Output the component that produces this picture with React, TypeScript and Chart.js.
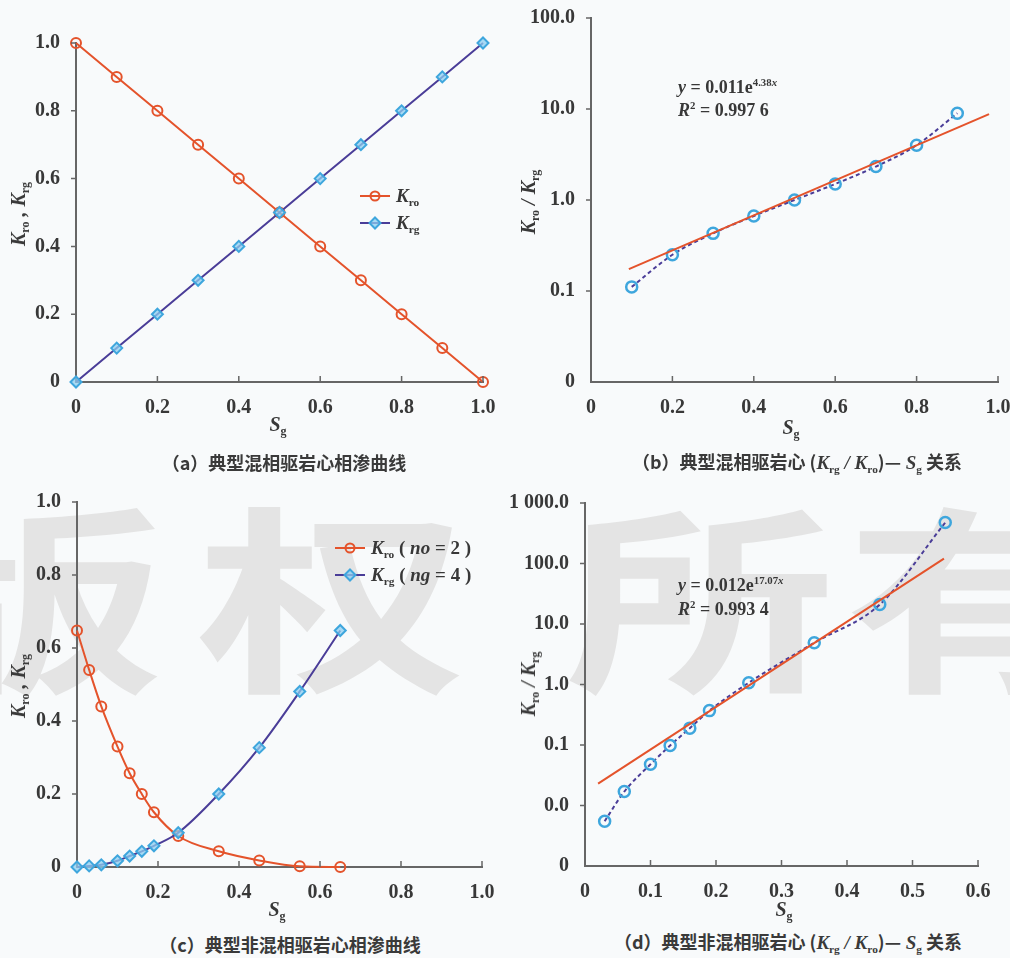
import React, { useEffect, useRef } from "react";
import { Chart, registerables } from "chart.js";
Chart.register(...registerables);

// ---------- data ----------
// (a) typical miscible-flood relative permeability
const SG_A = [0, 0.1, 0.2, 0.3, 0.4, 0.5, 0.6, 0.7, 0.8, 0.9, 1.0];
const KRO_A = [1.0, 0.9, 0.8, 0.7, 0.6, 0.5, 0.4, 0.3, 0.2, 0.1, 0];
const KRG_A = [0, 0.1, 0.2, 0.3, 0.4, 0.5, 0.6, 0.7, 0.8, 0.9, 1.0];
const LIN_TICKS = [0, 0.2, 0.4, 0.6, 0.8, 1.0];
const LIN_LABELS = ["0", "0.2", "0.4", "0.6", "0.8", "1.0"];

// (b) ratio vs Sg (miscible)
const SG_B = [0.1, 0.2, 0.3, 0.4, 0.5, 0.6, 0.7, 0.8, 0.9];
const RATIO_B = [0.111, 0.25, 0.43, 0.667, 1.0, 1.5, 2.33, 4.0, 9.0];
const FIT_SG_B = [0.093, 0.978];
const FIT_B = [0.174, 8.8];
const LOG_TICKS_B = [0.01, 0.1, 1, 10, 100];
const LOG_LABELS_B = ["0", "0.1", "1.0", "10.0", "100.0"];

// (c) typical immiscible-flood relative permeability
const SG_C = [0, 0.03, 0.06, 0.1, 0.13, 0.16, 0.19, 0.25, 0.35, 0.45, 0.55, 0.65];
const KRO_C = [0.648, 0.54, 0.44, 0.33, 0.257, 0.2, 0.15, 0.085, 0.043, 0.018, 0.002, 0];
const KRG_C = [0, 0.003, 0.006, 0.017, 0.03, 0.043, 0.058, 0.094, 0.2, 0.327, 0.481, 0.648];

// (d) ratio vs Sg (immiscible)
const SG_D = [0.03, 0.06, 0.1, 0.13, 0.16, 0.19, 0.25, 0.35, 0.45, 0.55];
const RATIO_D = [0.0055, 0.017, 0.048, 0.098, 0.19, 0.37, 1.07, 4.9, 21, 475];
const FIT_SG_D = [0.02, 0.548];
const FIT_D = [0.023, 120];
const LOG_TICKS_D = [0.001, 0.01, 0.1, 1, 10, 100, 1000];
const LOG_LABELS_D = ["0", "0.0", "0.1", "1.0", "10.0", "100.0", "1 000.0"];
const X_TICKS_D = [0, 0.1, 0.2, 0.3, 0.4, 0.5, 0.6];
const X_LABELS_D = ["0", "0.1", "0.2", "0.3", "0.4", "0.5", "0.6"];

// ---------- styles ----------
const RED = "#e4532b";
const PURPLE = "#4a3d98";
const BLUE = "#3ea6dd";
const BLUE_FILL = "rgba(140,205,240,0.75)";
const AXIS = "#666666";
const TEXT = "#383838";
const TICK_FONT = { family: '"Liberation Serif", serif', weight: "bold" as const, size: 20 };

const pts = (xs: number[], ys: number[]) => xs.map((x, i) => ({ x, y: ys[i] }));

const zeroPad = (s: any) => {
  s.paddingLeft = 0;
  s.paddingRight = 0;
  s.paddingTop = 0;
  s.paddingBottom = 0;
};

const innerTicks = {
  id: "innerTicks",
  afterDraw(chart: any) {
    const { ctx, chartArea, scales } = chart;
    const xs = scales.x;
    const ys = scales.y;
    ctx.save();
    ctx.strokeStyle = AXIS;
    ctx.lineWidth = 1.5;
    ctx.beginPath();
    xs.ticks.forEach((t: any) => {
      const px = xs.getPixelForValue(t.value);
      if (Math.abs(px - chartArea.left) < 2) return;
      ctx.moveTo(px, chartArea.bottom);
      ctx.lineTo(px, chartArea.bottom - 6);
    });
    ys.ticks.forEach((t: any) => {
      const py = ys.getPixelForValue(t.value);
      if (Math.abs(py - chartArea.bottom) < 2) return;
      ctx.moveTo(chartArea.left - 5, py);
      ctx.lineTo(chartArea.left, py);
    });
    ctx.stroke();
    ctx.restore();
  },
};

type Area = { left: number; right: number; top: number; bottom: number };
type AxisSpec = { type: "linear" | "logarithmic"; min: number; max: number; ticks: number[]; labels: string[] };

function makeConfig(datasets: any[], area: Area, w: number, h: number, x: AxisSpec, y: AxisSpec): any {
  return {
    type: "scatter",
    data: { datasets },
    options: {
      animation: false,
      responsive: false,
      events: [],
      layout: { padding: { left: 0, top: area.top, right: w - area.right, bottom: 0 } },
      plugins: { legend: { display: false }, tooltip: { enabled: false } },
      scales: {
        x: {
          type: x.type,
          min: x.min,
          max: x.max,
          grid: { display: false },
          border: { display: true, color: AXIS, width: 2 },
          ticks: {
            font: TICK_FONT,
            color: TEXT,
            padding: 6,
            maxRotation: 0,
            autoSkip: false,
            callback: (_v: any, i: number) => x.labels[i],
          },
          afterBuildTicks: (s: any) => {
            s.ticks = x.ticks.map((v) => ({ value: v }));
          },
          afterFit: (s: any) => {
            s.height = h - area.bottom;
            zeroPad(s);
          },
        },
        y: {
          type: y.type,
          min: y.min,
          max: y.max,
          grid: { display: false },
          border: { display: true, color: AXIS, width: 2 },
          ticks: {
            font: TICK_FONT,
            color: TEXT,
            padding: 8,
            autoSkip: false,
            callback: (_v: any, i: number) => y.labels[i],
          },
          afterBuildTicks: (s: any) => {
            s.ticks = y.ticks.map((v) => ({ value: v }));
          },
          afterFit: (s: any) => {
            s.width = area.left;
            zeroPad(s);
          },
        },
      },
    },
    plugins: [innerTicks],
  };
}

function Panel(props: { left: number; top: number; width: number; height: number; build: () => any }) {
  const ref = useRef<HTMLCanvasElement>(null);
  useEffect(() => {
    const chart = new Chart(ref.current as HTMLCanvasElement, props.build());
    return () => chart.destroy();
  }, []);
  return (
    <canvas
      ref={ref}
      width={props.width}
      height={props.height}
      style={{ position: "absolute", left: props.left, top: props.top, width: props.width, height: props.height }}
    />
  );
}

// ---------- panel configs ----------
const W = 505;
const H = 440;

const linLine = (label: string, xs: number[], ys: number[], line: string, marker: string, fill: string, style: string, order: number, smooth: boolean) => ({
  label,
  data: pts(xs, ys),
  showLine: true,
  borderColor: line,
  borderWidth: 2,
  pointStyle: style,
  pointRadius: style === "rectRot" ? 5.5 : 5,
  pointBorderColor: marker,
  pointBorderWidth: 2,
  pointBackgroundColor: fill,
  cubicInterpolationMode: smooth ? "monotone" : "default",
  tension: 0,
  clip: false,
  order,
});

const buildA = () =>
  makeConfig(
    [
      linLine("Krg", SG_A, KRG_A, PURPLE, BLUE, BLUE_FILL, "rectRot", 0, false),
      linLine("Kro", SG_A, KRO_A, RED, RED, "rgba(255,255,255,0)", "circle", 1, false),
    ],
    { left: 76, right: 483, top: 43, bottom: 382 },
    W,
    H,
    { type: "linear", min: 0, max: 1, ticks: LIN_TICKS, labels: LIN_LABELS },
    { type: "linear", min: 0, max: 1, ticks: LIN_TICKS, labels: LIN_LABELS }
  );

const buildC = () =>
  makeConfig(
    [
      linLine("Krg (ng=4)", SG_C, KRG_C, PURPLE, BLUE, BLUE_FILL, "rectRot", 0, true),
      linLine("Kro (no=2)", SG_C, KRO_C, RED, RED, "rgba(255,255,255,0)", "circle", 1, true),
    ],
    { left: 77, right: 482, top: 22, bottom: 387 },
    W,
    H,
    { type: "linear", min: 0, max: 1, ticks: LIN_TICKS, labels: LIN_LABELS },
    { type: "linear", min: 0, max: 1, ticks: LIN_TICKS, labels: LIN_LABELS }
  );

const ratioSets = (xs: number[], ys: number[], fx: number[], fy: number[]) => [
  {
    label: "fit",
    data: pts(fx, fy),
    showLine: true,
    borderColor: RED,
    borderWidth: 2,
    pointRadius: 0,
    clip: false,
    order: 0,
  },
  {
    label: "ratio",
    data: pts(xs, ys),
    showLine: true,
    borderColor: PURPLE,
    borderWidth: 2,
    borderDash: [4, 3],
    cubicInterpolationMode: "monotone",
    pointStyle: "circle",
    pointRadius: 5.5,
    pointBorderColor: BLUE,
    pointBorderWidth: 2.5,
    pointBackgroundColor: "rgba(255,255,255,0)",
    clip: false,
    order: 1,
  },
];

const buildB = () =>
  makeConfig(
    ratioSets(SG_B, RATIO_B, FIT_SG_B, FIT_B),
    { left: 86, right: 493, top: 18, bottom: 382 },
    W,
    H,
    { type: "linear", min: 0, max: 1, ticks: LIN_TICKS, labels: LIN_LABELS },
    { type: "logarithmic", min: 0.01, max: 100, ticks: LOG_TICKS_B, labels: LOG_LABELS_B }
  );

const buildD = () =>
  makeConfig(
    ratioSets(SG_D, RATIO_D, FIT_SG_D, FIT_D),
    { left: 80, right: 473, top: 23, bottom: 386 },
    W,
    H,
    { type: "linear", min: 0, max: 0.6, ticks: X_TICKS_D, labels: X_LABELS_D },
    { type: "logarithmic", min: 0.001, max: 1000, ticks: LOG_TICKS_D, labels: LOG_LABELS_D }
  );

// ---------- text helpers ----------
const SERIF = '"Liberation Serif", "Times New Roman", serif';
const CJK = '"Noto Sans CJK SC", sans-serif';

const Sub = ({ children }: { children: React.ReactNode }) => (
  <span style={{ fontSize: "0.6em", fontStyle: "normal", verticalAlign: "-0.35em", lineHeight: 0 }}>{children}</span>
);
const Sup = ({ children }: { children: React.ReactNode }) => (
  <span style={{ fontSize: "0.6em", verticalAlign: "0.65em", lineHeight: 0 }}>{children}</span>
);

const Centered = ({ x, y, rotate, style, children }: any) => (
  <div
    style={{
      position: "absolute",
      left: x,
      top: y,
      transform: `translate(-50%, -50%)${rotate ? " rotate(-90deg)" : ""}`,
      whiteSpace: "nowrap",
      lineHeight: 1,
      color: TEXT,
      ...style,
    }}
  >
    {children}
  </div>
);

const titleStyle = { fontFamily: SERIF, fontStyle: "italic", fontWeight: "bold", fontSize: 20 };

const YTitle = ({ x, y, ratio }: { x: number; y: number; ratio?: boolean }) => (
  <Centered x={x} y={y} rotate style={titleStyle}>
    {ratio ? (
      <>
        K<Sub>ro</Sub> / K<Sub>rg</Sub>
      </>
    ) : (
      <>
        K<Sub>ro</Sub> , K<Sub>rg</Sub>
      </>
    )}
  </Centered>
);

const XTitle = ({ x, y }: { x: number; y: number }) => (
  <Centered x={x} y={y} style={titleStyle}>
    S<Sub>g</Sub>
  </Centered>
);

const capStyle = { fontFamily: CJK, fontWeight: "bold", fontSize: 18, color: "#3a3a3a" };
const capLatin = { fontFamily: SERIF, fontStyle: "italic", fontWeight: "bold", fontSize: 19 };

const LegendRow = ({ x, y, line, marker, shape, children }: any) => (
  <div style={{ position: "absolute", left: x, top: y - 11, height: 22, display: "flex", alignItems: "center", whiteSpace: "nowrap" }}>
    <svg width={30} height={22} style={{ display: "block" }}>
      <line x1={0} y1={11} x2={30} y2={11} stroke={line} strokeWidth={2} />
      {shape === "circle" ? (
        <circle cx={15} cy={11} r={4.5} fill="none" stroke={marker} strokeWidth={2} />
      ) : (
        <polygon points="15,5.5 20.5,11 15,16.5 9.5,11" fill={BLUE_FILL} stroke={marker} strokeWidth={2} />
      )}
    </svg>
    <span style={{ marginLeft: 6, fontFamily: SERIF, fontWeight: "bold", fontSize: 19, color: TEXT }}>{children}</span>
  </div>
);

const eqStyle = { position: "absolute" as const, fontFamily: SERIF, fontWeight: "bold", fontSize: 18, color: TEXT, whiteSpace: "nowrap" as const, lineHeight: "20px" };

const WATERMARK = [
  { ch: "版", x: 30 },
  { ch: "权", x: 332 },
  { ch: "所", x: 700 },
  { ch: "有", x: 980 },
];

export default function App() {
  return (
    <div
      style={{
        position: "absolute",
        left: 0,
        top: 0,
        width: 1010,
        height: 958,
        overflow: "hidden",
        background: "#f8fafb",
      }}
    >
      {WATERMARK.map((w) => (
        <div
          key={w.ch}
          style={{
            position: "absolute",
            left: w.x - 100,
            top: 490,
            width: 200,
            height: 200,
            lineHeight: "200px",
            fontSize: 200,
            fontFamily: CJK,
            fontWeight: "bold",
            color: "#e4e4e4",
            textAlign: "center",
            transform: "scaleX(1.35)",
          }}
        >
          {w.ch}
        </div>
      ))}

      <Panel left={0} top={0} width={W} height={H} build={buildA} />
      <Panel left={505} top={0} width={W} height={H} build={buildB} />
      <Panel left={0} top={480} width={W} height={H} build={buildC} />
      <Panel left={505} top={480} width={W} height={H} build={buildD} />

      {/* axis titles */}
      <YTitle x={18} y={214} />
      <XTitle x={278} y={424} />
      <YTitle x={528} y={202} ratio />
      <XTitle x={791} y={427} />
      <YTitle x={18} y={686} />
      <XTitle x={277} y={909} />
      <YTitle x={528} y={684} ratio />
      <XTitle x={784} y={909} />

      {/* legends */}
      <LegendRow x={360} y={196} line={RED} marker={RED} shape="circle">
        <i>K</i>
        <Sub>ro</Sub>
      </LegendRow>
      <LegendRow x={360} y={223} line={PURPLE} marker={BLUE} shape="diamond">
        <i>K</i>
        <Sub>rg</Sub>
      </LegendRow>
      <LegendRow x={335} y={548} line={RED} marker={RED} shape="circle">
        <i>K</i>
        <Sub>ro</Sub> ( <i>no</i> = 2 )
      </LegendRow>
      <LegendRow x={335} y={575} line={PURPLE} marker={BLUE} shape="diamond">
        <i>K</i>
        <Sub>rg</Sub> ( <i>ng</i> = 4 )
      </LegendRow>

      {/* fit equations */}
      <div style={{ ...eqStyle, left: 678, top: 77 }}>
        <i>y</i> = 0.011e<Sup>4.38<i>x</i></Sup>
      </div>
      <div style={{ ...eqStyle, left: 678, top: 100 }}>
        <i>R</i>
        <Sup>2</Sup> = 0.997 6
      </div>
      <div style={{ ...eqStyle, left: 678, top: 575 }}>
        <i>y</i> = 0.012e<Sup>17.07<i>x</i></Sup>
      </div>
      <div style={{ ...eqStyle, left: 678, top: 599 }}>
        <i>R</i>
        <Sup>2</Sup> = 0.993 4
      </div>

      {/* captions */}
      <Centered x={284} y={462} style={capStyle}>
        （a）典型混相驱岩心相渗曲线
      </Centered>
      <Centered x={797} y={462} style={capStyle}>
        （b）典型混相驱岩心 (
        <span style={capLatin}>
          K<Sub>rg</Sub> / K<Sub>ro</Sub>
        </span>
        )—
        <span style={capLatin}>
          {" "}S<Sub>g</Sub>
        </span>{" "}
        关系
      </Centered>
      <Centered x={290} y={944} style={capStyle}>
        （c）典型非混相驱岩心相渗曲线
      </Centered>
      <Centered x={788} y={942} style={capStyle}>
        （d）典型非混相驱岩心 (
        <span style={capLatin}>
          K<Sub>rg</Sub> / K<Sub>ro</Sub>
        </span>
        )—
        <span style={capLatin}>
          {" "}S<Sub>g</Sub>
        </span>{" "}
        关系
      </Centered>
    </div>
  );
}
